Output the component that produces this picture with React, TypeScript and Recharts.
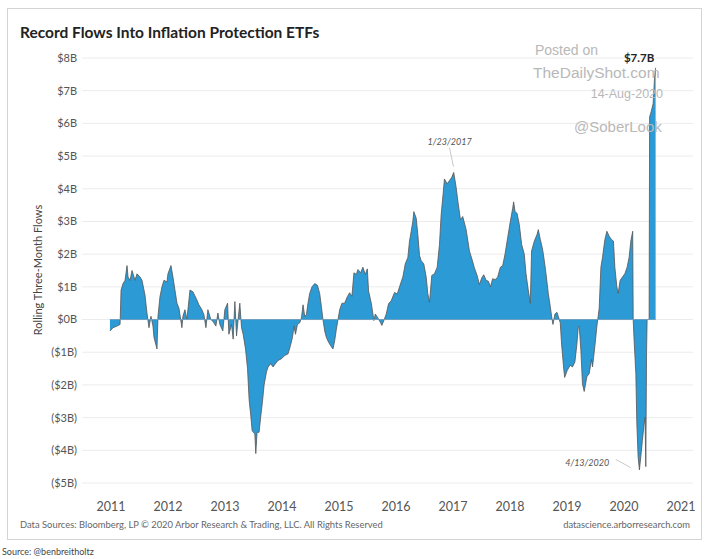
import React from 'react';
import { AreaChart, Area, XAxis, YAxis, CartesianGrid, ReferenceDot, ReferenceLine, Label } from 'recharts';

const dates = [2010.98,2011.035,2011.105,2011.158,2011.175,2011.21,2011.245,2011.28,2011.298,2011.333,2011.368,2011.42,2011.455,2011.508,2011.543,2011.595,2011.63,2011.665,2011.70,2011.735,2011.753,2011.806,2011.823,2011.858,2011.893,2011.928,2011.981,2011.998,2012.051,2012.086,2012.121,2012.156,2012.191,2012.243,2012.261,2012.296,2012.331,2012.384,2012.436,2012.506,2012.541,2012.594,2012.629,2012.664,2012.699,2012.751,2012.786,2012.839,2012.874,2012.909,2012.961,2012.996,2013.044,2013.067,2013.114,2013.142,2013.172,2013.201,2013.229,2013.259,2013.289,2013.317,2013.359,2013.394,2013.422,2013.452,2013.475,2013.522,2013.539,2013.562,2013.597,2013.627,2013.657,2013.685,2013.727,2013.755,2013.802,2013.842,2013.884,2013.93,2013.99,2014.047,2014.105,2014.147,2014.182,2014.21,2014.235,2014.27,2014.31,2014.34,2014.368,2014.398,2014.427,2014.455,2014.485,2014.525,2014.573,2014.62,2014.66,2014.69,2014.718,2014.748,2014.778,2014.818,2014.853,2014.893,2014.923,2014.953,2014.981,2015.011,2015.051,2015.098,2015.145,2015.186,2015.226,2015.261,2015.303,2015.331,2015.378,2015.418,2015.46,2015.496,2015.518,2015.566,2015.611,2015.636,2015.681,2015.729,2015.751,2015.786,2015.828,2015.868,2015.916,2015.974,2016.021,2016.061,2016.119,2016.161,2016.207,2016.236,2016.266,2016.294,2016.312,2016.354,2016.382,2016.412,2016.441,2016.487,2016.529,2016.557,2016.587,2016.627,2016.674,2016.722,2016.762,2016.791,2016.826,2016.849,2016.896,2016.937,2016.977,2017.012,2017.054,2017.082,2017.13,2017.17,2017.23,2017.287,2017.335,2017.375,2017.422,2017.462,2017.503,2017.538,2017.58,2017.62,2017.655,2017.695,2017.737,2017.783,2017.83,2017.871,2017.912,2017.958,2018.005,2018.046,2018.063,2018.088,2018.123,2018.163,2018.203,2018.25,2018.28,2018.32,2018.355,2018.378,2018.426,2018.473,2018.496,2018.531,2018.571,2018.601,2018.631,2018.671,2018.706,2018.729,2018.753,2018.788,2018.823,2018.846,2018.881,2018.904,2018.939,2018.958,2019.005,2019.056,2019.096,2019.138,2019.173,2019.196,2019.214,2019.243,2019.271,2019.301,2019.348,2019.389,2019.429,2019.447,2019.489,2019.524,2019.546,2019.564,2019.594,2019.622,2019.664,2019.699,2019.739,2019.779,2019.814,2019.839,2019.874,2019.897,2019.932,2019.972,2020.014,2020.054,2020.089,2020.119,2020.152,2020.161,2020.177,2020.207,2020.224,2020.247,2020.27,2020.294,2020.322,2020.352,2020.369,2020.382,2020.395,2020.405,2020.44,2020.449,2020.475,2020.51,2020.536,2020.554];

const flows = [-0.35,-0.25,-0.2,-0.15,0.9,1.1,1.2,1.65,1.3,1.2,1.5,1.2,1.4,1.3,1.2,0.75,0.2,-0.25,0.1,-0.2,-0.55,-0.9,0.1,0.7,1.0,1.2,1.15,1.4,1.65,1.3,0.9,0.5,0.35,-0.25,0.1,0.3,0.0,0.9,0.85,0.6,0.45,0.3,0.15,-0.25,0.3,0.0,-0.05,-0.2,0.2,-0.15,-0.35,0.3,0.5,-0.45,-0.15,-0.6,0.55,-0.5,0.0,0.5,-0.25,-0.45,-0.9,-1.5,-2.45,-2.95,-3.4,-3.5,-4.1,-3.45,-3.45,-2.95,-2.5,-2.0,-1.6,-1.45,-1.35,-1.45,-1.35,-1.25,-1.2,-1.1,-1.05,-0.8,-0.55,-0.2,-0.45,-0.15,-0.1,0.05,0.45,0.1,0.15,0.5,0.8,1.0,1.1,1.05,0.8,0.4,0.0,-0.35,-0.55,-0.7,-0.8,-0.9,-0.65,-0.3,0.0,0.3,0.5,0.5,0.7,0.82,0.71,1.43,1.38,1.53,1.43,1.6,1.38,1.55,0.87,0.5,-0.03,0.17,0.05,-0.1,-0.18,-0.03,0.17,0.48,0.58,0.83,0.78,1.0,1.3,1.7,1.9,2.4,2.7,3.0,3.3,3.1,2.6,1.96,1.8,1.7,1.3,0.8,0.53,1.35,1.4,1.6,2.3,3.2,3.85,4.3,4.15,4.25,4.35,4.5,4.05,3.65,3.05,3.15,2.75,2.1,1.83,1.58,1.35,1.07,1.27,1.37,1.2,1.17,1.0,1.25,1.22,1.3,1.6,1.65,2.0,2.5,3.0,3.4,3.6,3.3,3.25,2.9,2.3,2.0,1.4,0.9,0.5,2.1,2.4,2.6,2.75,2.45,2.15,1.8,1.4,0.8,0.4,0.1,-0.15,0.17,0.22,0.1,-0.1,-0.75,-1.45,-1.77,-1.55,-1.4,-1.45,-1.3,-0.75,-0.25,-0.2,-0.95,-1.97,-2.2,-1.75,-1.65,-1.22,-1.45,-0.8,-0.2,0.1,0.35,1.6,1.9,2.45,2.7,2.55,2.45,2.4,1.6,1.0,0.8,1.2,1.3,1.4,1.6,1.9,2.4,2.7,0,-0.65,-1.65,-3.15,-4.2,-4.6,-4.2,-3.7,-3.2,-3.0,-4.5,-1.0,0,0,6.2,6.35,6.6,7.4,7.7];

const yearTicks = [2011, 2012, 2013, 2014, 2015, 2016, 2017, 2018, 2019, 2020, 2021];
const flowTicks = [-5, -4, -3, -2, -1, 0, 1, 2, 3, 4, 5, 6, 7, 8];

const chartTitle = 'Record Flows Into Inflation Protection ETFs';
const yAxisTitle = 'Rolling Three-Month Flows';
const footerLeft = 'Data Sources: Bloomberg, LP \u00A9 2020 Arbor Research & Trading, LLC. All Rights Reserved';
const footerRight = 'datascience.arborresearch.com';
const sourceNote = 'Source: @benbreitholtz';

const data = dates.map((t, i) => ({ t, v: flows[i] }));

const fmt = (v: number) => (v < 0 ? `($${-v}B)` : `$${v}B`);
const FONT = 'Lato, "Open Sans", sans-serif';

export default function App() {
  return (
    <div style={{ position: 'absolute', left: 0, top: 0, width: 709, height: 559, background: '#fff', fontFamily: FONT }}>
      <svg width={709} height={559} style={{ position: 'absolute', left: 0, top: 0 }}>
        <rect x={7.5} y={8.5} width={694} height={531} fill="#fff" stroke="#d4d4d4" strokeWidth={1} />
      </svg>
      <div style={{ position: 'absolute', left: 0, top: 0 }}>
        <AreaChart width={709} height={559} data={data} margin={{ top: 58, right: 16, left: 0, bottom: 46 }} style={{ fontFamily: FONT }}>
          <CartesianGrid horizontal vertical={false} stroke="#ececec" />
          <XAxis type="number" dataKey="t" domain={[2010.49, 2021.21]} ticks={yearTicks} allowDataOverflow axisLine={false} tickLine={false} tickSize={6} tickMargin={13} height={30} tick={{ fill: '#555', fontSize: 12.5, fontFamily: FONT }} />
          <YAxis type="number" domain={[-5, 8]} ticks={flowTicks} tickFormatter={fmt} axisLine={false} tickLine={false} tickSize={0} tickMargin={5} width={82} interval={0} tick={{ fill: '#555', fontSize: 11, fontFamily: FONT }} />
          <Area type="linear" dataKey="v" stroke="#555" strokeWidth={0.8} fill="#2c9ad4" fillOpacity={1} isAnimationActive={false} dot={false} activeDot={false} />
          <ReferenceLine segment={[{ x: dates[0], y: 0 }, { x: dates[dates.length - 1], y: 0 }]} stroke="#6f9fbf" strokeWidth={1} />
          <ReferenceLine segment={[{ x: 2017.007, y: 4.68 }, { x: 2016.937, y: 5.26 }]} stroke="#bbb" strokeWidth={0.8} />
          <ReferenceLine segment={[{ x: 2019.855, y: -4.28 }, { x: 2020.118, y: -4.53 }]} stroke="#bbb" strokeWidth={0.8} />
          <ReferenceDot x={2016.94} y={5.45} r={0} fill="none" stroke="none">
            <Label value="1/23/2017" position="center" fill="#555" fontSize={9} fontStyle="italic" fontFamily={FONT} />
          </ReferenceDot>
          <ReferenceDot x={2019.354} y={-4.37} r={0} fill="none" stroke="none">
            <Label value="4/13/2020" position="center" fill="#555" fontSize={9} fontStyle="italic" fontFamily={FONT} />
          </ReferenceDot>
          <ReferenceDot x={2020.264} y={8.0} r={0} fill="none" stroke="none">
            <Label value="$7.7B" position="center" fill="#222" fontSize={11.5} fontWeight="bold" fontFamily={FONT} />
          </ReferenceDot>
        </AreaChart>
      </div>
      <svg width={709} height={559} style={{ position: 'absolute', left: 0, top: 0, pointerEvents: 'none' }}>
        <text x={20} y={38} fontSize={15.5} fontWeight="bold" fill="#222" fontFamily={FONT}>{chartTitle}</text>
        <text transform="translate(42,270) rotate(-90)" textAnchor="middle" fontSize={11} fill="#444" fontFamily={FONT}>{yAxisTitle}</text>
        <text x={20} y={528} fontSize={9.4} fill="#666" fontFamily={FONT}>{footerLeft}</text>
        <text x={690} y={528} textAnchor="end" fontSize={9.4} fill="#666" fontFamily={FONT}>{footerRight}</text>
        <text x={2} y={555} fontSize={9} fill="#444" fontFamily={FONT}>{sourceNote}</text>
        <g fill="#b8b8b8" fontFamily='"Liberation Sans", Arial, sans-serif'>
          <text x={535} y={55} fontSize={14}>Posted on</text>
          <text x={533} y={78} fontSize={15.5}>TheDailyShot.com</text>
          <text x={663} y={98} textAnchor="end" fontSize={12.5}>14-Aug-2020</text>
          <text x={574} y={132} fontSize={15}>@SoberLook</text>
        </g>
      </svg>
    </div>
  );
}
